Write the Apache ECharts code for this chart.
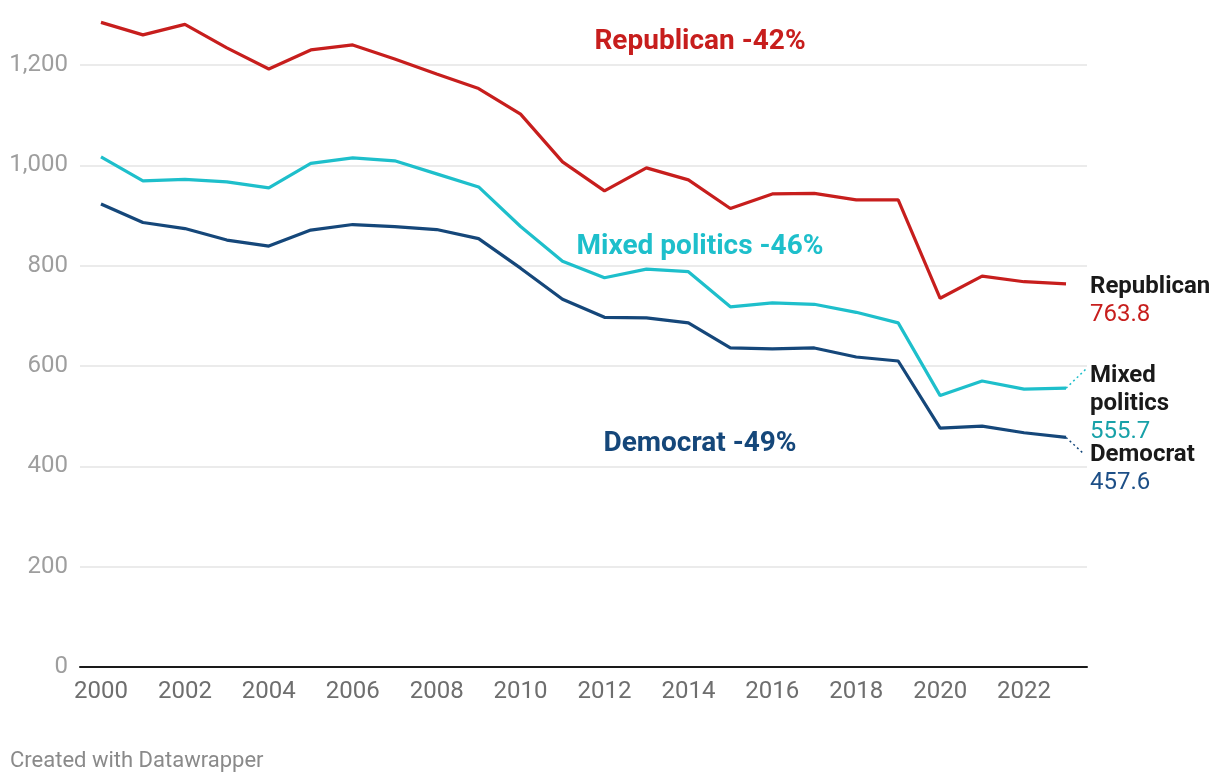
<!DOCTYPE html>
<html>
<head>
<meta charset="utf-8">
<script src="https://cdn.jsdelivr.net/npm/echarts@6/dist/echarts.min.js"></script>
<style>
html,body{margin:0;padding:0;background:#fff;}
#chart{width:1220px;height:784px;}
</style>
</head>
<body>
<div id="chart"></div>
<script>
const years = ['2000','2001','2002','2003','2004','2005','2006','2007','2008','2009','2010','2011','2012','2013','2014','2015','2016','2017','2018','2019','2020','2021','2022','2023'];
const republican = [1285,1260,1281,1234,1192,1230,1240,1212,1182,1153,1102,1007,949,995,971,914,943,944,931,931,735,779,768,763.8];
const mixed = [1017,969,972,967,955,1004,1015,1009,983,957,878,809,776,793,788,718,726,723,707,686,541,570,554,555.7];
const democrat = [923,886,874,851,839,871,882,878,872,854,795,733,697,696,686,636,634,636,618,610,476,480,467,457.6];
const yTicks = [0,200,400,600,800,1000,1200];
const seriesNames = ['Republican','Mixed politics','Democrat'];
const endNames = [['Republican'],['Mixed','politics'],['Democrat']];
const annotations = ['Republican -42%','Mixed politics -46%','Democrat -49%'];
const sourceText = 'Created with Datawrapper';

const colors = ['#c71e1d','#1ebfcb','#15477a'];
const valueColors = ['#c71e1d','#18a1a8','#1d4f87'];
const FONT = 'Roboto, "Noto Sans", sans-serif';

const chart = echarts.init(document.getElementById('chart'));

function makeSeries(idx, data, dy, connector) {
  const s = {
    name: seriesNames[idx],
    type: 'line',
    data: data,
    symbol: 'none',
    clip: false,
    lineStyle: {color: colors[idx], width: 3.2},
    itemStyle: {color: colors[idx]},
    emphasis: {disabled: true},
    endLabel: {
      show: true,
      distance: 5,
      offset: [19, dy],
      formatter: function () {
        const names = endNames[idx].map(n => '{n|' + n + '}').join('\n');
        return names + '\n{v|' + data[data.length - 1].toFixed(1) + '}';
      },
      rich: {
        n: {fontFamily: FONT, fontSize: 24, fontWeight: 'bold', color: '#1a1a1a', lineHeight: 28},
        v: {fontFamily: FONT, fontSize: 24, color: valueColors[idx], lineHeight: 28}
      }
    }
  };
  if (connector) {
    s.markLine = {
      silent: true,
      symbol: 'none',
      label: {show: false},
      lineStyle: {color: colors[idx], width: 1.5, type: [2, 3]},
      data: [[{coord: [years[years.length - 1], data[data.length - 1]]}, {x: connector[0], y: connector[1]}]]
    };
  }
  return s;
}

chart.setOption({
  animation: false,
  grid: {left: 80, right: 133, top: 65, bottom: 117, containLabel: false},
  xAxis: {
    type: 'category',
    data: years,
    boundaryGap: true,
    axisLine: {show: true, lineStyle: {color: '#1a1a1a', width: 2}},
    axisTick: {show: false},
    axisLabel: {interval: 1, color: '#6e6e6e', fontFamily: FONT, fontSize: 24, margin: 13},
    splitLine: {show: false}
  },
  yAxis: {
    type: 'value',
    min: yTicks[0],
    max: yTicks[yTicks.length - 1],
    interval: 200,
    axisLine: {show: false},
    axisTick: {show: false},
    axisLabel: {
      color: '#9e9e9e', fontFamily: FONT, fontSize: 24, margin: 12,
      formatter: v => v.toLocaleString('en-US')
    },
    splitLine: {lineStyle: {color: '#e4e4e4', width: 1.5}}
  },
  series: [
    makeSeries(0, republican, 17, null),
    makeSeries(1, mixed, 16, [1086, 369]),
    makeSeries(2, democrat, 32, [1084, 454])
  ],
  graphic: [
    {type: 'text', style: {text: annotations[0], x: 700, y: 42, align: 'center', verticalAlign: 'middle', fill: colors[0], font: 'bold 28px ' + FONT}},
    {type: 'text', style: {text: annotations[1], x: 700, y: 247, align: 'center', verticalAlign: 'middle', fill: colors[1], font: 'bold 28px ' + FONT}},
    {type: 'text', style: {text: annotations[2], x: 700, y: 444, align: 'center', verticalAlign: 'middle', fill: colors[2], font: 'bold 28px ' + FONT}},
    {type: 'text', style: {text: sourceText, x: 10, y: 761, verticalAlign: 'middle', fill: '#8a8a8a', font: '22px ' + FONT}}
  ]
});
</script>
</body>
</html>
